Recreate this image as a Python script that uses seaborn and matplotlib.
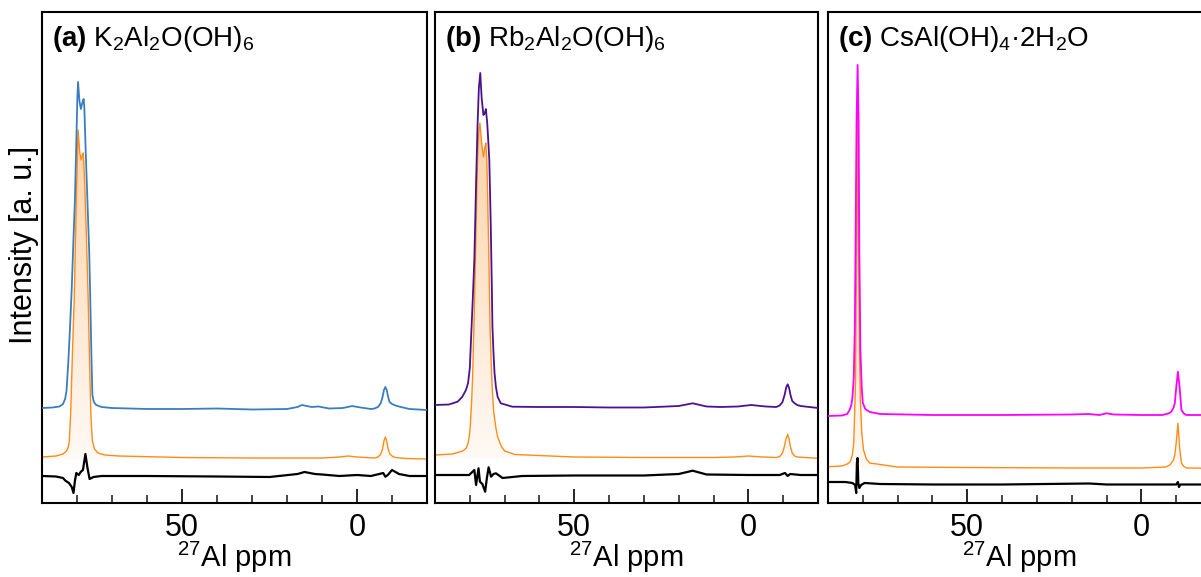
import numpy as np
import pandas as pd
import matplotlib
matplotlib.use("Agg")
import matplotlib.pyplot as plt
from matplotlib.ticker import MultipleLocator
from matplotlib.colors import LinearSegmentedColormap
import seaborn as sns

# ---- datos (ppm, intensidad a.u.) ----
# (a) K2Al2O(OH)6
a_exp_ppm = [90, 87, 85, 84, 83.4, 83.0, 82.5, 82.0, 81.5, 81.0, 80.6, 80.2, 79.9, 79.7, 79.3,
             78.9, 78.5, 78.1, 77.9, 77.5, 77.0, 76.5, 76.2, 75.9, 75.6, 75.2, 74.5, 73, 70,
             60, 50, 40, 30, 20, 17, 15.7, 13, 11, 8, 4, 1.4, -1, -4, -5, -6, -6.8, -7.3, -7.7,
             -8.1, -8.5, -8.9, -9.3, -10, -11, -12.5, -15, -20]
a_exp_int = [95, 95.5, 96.5, 99, 104, 112, 140, 175, 215, 265, 303, 360, 405, 421, 402,
             394, 400, 404, 395, 350, 300, 250, 203, 150, 108, 101, 98, 96, 95,
             94, 94, 94.5, 93.5, 94, 96, 98, 96, 96.5, 94.5, 95, 97, 95.5, 94, 94.5, 96, 100, 106, 113,
             116, 113, 106, 101, 99, 97.5, 96, 94, 93]
a_fit_ppm = [90, 86, 84, 83, 82.5, 82.2, 81.8, 81.3, 80.8, 80.2, 79.7, 79.2, 78.8, 78.5, 78.2,
             77.8, 77.3, 76.8, 76.4, 76.0, 75.6, 75.0, 74.0, 72, 68, 50, 30, 10, 5, 2.5, 0,
             -5, -6, -6.8, -7.3, -7.7, -8.1, -8.5, -8.9, -9.4, -10.2, -11, -14, -20]
a_fit_int = [46, 47, 49, 52, 56, 62, 90, 150, 203, 303, 373, 350, 343, 348, 350,
             320, 265, 203, 140, 85, 62, 54, 50, 48, 47, 45.5, 45, 45, 46, 47, 46,
             45, 46, 49, 54, 62, 66, 62, 54, 49, 46.5, 45.5, 44.5, 44]
a_res_ppm = [90, 86, 84, 83.3, 82.3, 81.5, 81.0, 80.6, 80.2, 79.5, 78.9, 78.3, 77.6, 77.0, 76.4,
             75.3, 73, 60, 40, 25, 17, 15, 12, 10, 5, 0, -4, -7.5, -8.1, -8.8, -10, -12, -15, -20]
a_res_int = [27, 26.5, 25, 22.3, 20, 16, 10, 22, 30, 28, 31.3, 33, 49, 35, 24,
             26, 27, 27, 26.5, 26, 29, 31, 29, 28.5, 27, 28, 27, 30, 26.3, 28, 33, 29, 27, 27]

# (b) Rb2Al2O(OH)6
b_exp_ppm = [90, 86, 83.5, 82.2, 81.1, 80.5, 80.0, 79.7, 79.2, 78.7, 78.2, 77.8, 77.4, 77.0, 76.6,
             76.1, 75.7, 75.4, 75.0, 74.7, 74.4, 74.0, 73.7, 73.5, 73.2, 72.9, 72.5, 72.0, 71.1, 67.8,
             60, 50, 40, 30, 20, 16, 12, 8, 3, -0.8, -5, -8, -9, -9.8, -10.4, -10.9, -11.3, -11.7,
             -12.1, -12.6, -13.2, -14, -15, -20]
b_exp_int = [98, 98.5, 101.3, 106, 113, 120, 135, 160, 200, 243, 320, 376, 415, 430, 405,
             388, 390, 394, 380, 362, 343, 280, 220, 176, 150, 130, 116, 106, 99.7, 96.3,
             96, 96, 95.5, 95.5, 97, 99.7, 96.5, 96, 96.5, 98, 96.5, 96, 97.5, 101, 108, 116, 118.7, 115,
             108, 102, 100, 98, 97, 95]
b_fit_ppm = [90, 85, 82, 81, 80.5, 80.2, 79.9, 79.5, 79.2, 78.8, 78.4, 78.1, 77.8, 77.4, 77.1,
             76.6, 76.1, 75.7, 75.4, 75.1, 74.9, 74.5, 74.2, 73.8, 73.5, 73.1, 72.5, 72.0, 71, 70, 67,
             50, 30, 10, 4, 0, -4, -8, -9, -9.8, -10.3, -10.8, -11.3, -11.7, -12.1, -12.6, -13.3,
             -14, -20]
b_fit_int = [48, 49, 52, 55, 60, 66, 75, 100, 126, 180, 243, 295, 343, 372, 380,
             360, 346, 355, 360, 340, 310, 240, 176, 135, 110, 90, 75, 66, 57, 52, 48.5,
             46, 45.5, 45.5, 46, 47, 46, 45.5, 46.5, 50, 56, 64, 68.7, 64, 56, 50, 47,
             46, 44.7]
b_res_ppm = [90, 85, 81, 80.2, 78.7, 78.2, 77.5, 77.1, 76.4, 75.6, 75.1, 74.6, 73.9, 73.2, 72.5,
             70.6, 65, 50, 30, 20, 16, 12, 0, -9, -10.5, -11.3, -12, -15, -20]
b_res_int = [28, 28, 28, 28, 33, 18, 34.7, 21.3, 19, 11.3, 25, 35.7, 26.3, 29, 29.7,
             25, 27, 27.5, 27.5, 29, 32.3, 28.5, 28, 28, 30, 27, 29, 28, 28]

# (c) CsAl(OH)4·2H2O
c_exp_ppm = [90, 86, 84.5, 83.8, 83.3, 83.0, 82.6, 82.3, 82.1, 81.8, 81.5, 81.2, 81.0, 80.7,
             80.3, 80.0, 79.3, 78, 75, 60, 40, 20, 15.3, 12, 10, 8, 0, -6, -7.8, -8.6, -9.2, -9.6,
             -10.0, -10.5, -11.0, -11.5, -12.2, -12.9, -20]
c_exp_int = [87, 87.5, 89, 93, 98, 105, 125, 175, 253, 380, 438, 380, 253, 153,
             115, 100, 94, 91, 89, 88, 88, 88.5, 89, 88, 89.7, 88.5, 88, 88, 89.5, 91.3, 95, 99.7,
             115, 131.3, 115, 93, 89.5, 88, 88]
c_fit_ppm = [90, 86, 84.5, 83.6, 83.0, 82.6, 82.1, 81.8, 81.5, 81.2, 80.9, 80.7, 80.3, 79.8,
             79.0, 78, 70, 50, 20, 0, -7, -8.2, -9.2, -9.6, -10.0, -10.5, -11.0, -11.5, -12.2,
             -13, -20]
c_fit_int = [36.3, 37, 39, 41.3, 48, 60, 120, 250, 386, 250, 140, 103, 70, 53,
             44, 40, 36, 35.5, 35, 35, 36, 38, 43, 48, 60, 79.7, 55, 40, 36.5,
             35, 34.7]
c_res_ppm = [90, 85, 83, 82.2, 81.9, 81.7, 81.5, 81.3, 81.0, 80.5, 79.5, 75, 60, 40, 15, 10, 0,
             -10, -10.5, -10.8, -11.2, -20]
c_res_int = [21, 21, 20, 18, 10, 40, 45, 20, 15, 18, 20, 19, 18.5, 18.5, 19.5, 18.5, 18.5,
             18.5, 21, 16, 18.5, 18.5]

titles = [r"$\mathbf{(a)}$ K$_2$Al$_2$O(OH)$_6$",
          r"$\mathbf{(b)}$ Rb$_2$Al$_2$O(OH)$_6$",
          r"$\mathbf{(c)}$ CsAl(OH)$_4$·2H$_2$O"]
exp_colors = ["#3a7ebf", "#4b1290", "#ff00ff"]
fit_color = "#ff8c1a"

panels = [
    (a_exp_ppm, a_exp_int, a_fit_ppm, a_fit_int, a_res_ppm, a_res_int),
    (b_exp_ppm, b_exp_int, b_fit_ppm, b_fit_int, b_res_ppm, b_res_int),
    (c_exp_ppm, c_exp_int, c_fit_ppm, c_fit_int, c_res_ppm, c_res_int),
]

sns.set_theme(style="white")
plt.rcParams['font.family'] = ['Liberation Sans', 'DejaVu Sans']
plt.rcParams['mathtext.fontset'] = 'custom'
plt.rcParams['mathtext.rm'] = 'Liberation Sans'
plt.rcParams['mathtext.it'] = 'Liberation Sans:italic'
plt.rcParams['mathtext.bf'] = 'Liberation Sans:bold'

fig = plt.figure(figsize=(12.01, 5.77), dpi=100)
lefts = [42 / 1201, 435 / 1201, 828 / 1201]
widths = [385 / 1201, 383 / 1201, 383 / 1201]
bottom, height = 74 / 577, 491 / 577

grad_cmap = LinearSegmentedColormap.from_list("peach", ["#fffaf5", "#fcd2a8"])

for i, (ep, ei, fp, fi, rp, ri) in enumerate(panels):
    ax = fig.add_axes([lefts[i], bottom, widths[i], height])

    # relleno con degradado bajo el ajuste
    base = min(fi)
    poly = ax.fill_between(fp, fi, base, color="none", lw=0)
    grad = np.linspace(0, 1, 256).reshape(-1, 1)
    img = ax.imshow(grad, cmap=grad_cmap, origin="lower", aspect="auto",
                    extent=(90, -20, base, max(fi)), zorder=1)
    img.set_clip_path(poly.get_paths()[0], transform=ax.transData)

    df_exp = pd.DataFrame({"ppm": ep, "int": ei})
    df_fit = pd.DataFrame({"ppm": fp, "int": fi})
    df_res = pd.DataFrame({"ppm": rp, "int": ri})
    sns.lineplot(data=df_fit, x="ppm", y="int", ax=ax, color=fit_color, lw=1.0, zorder=2)
    sns.lineplot(data=df_exp, x="ppm", y="int", ax=ax, color=exp_colors[i], lw=1.3, zorder=3)
    sns.lineplot(data=df_res, x="ppm", y="int", ax=ax, color="black", lw=1.6, zorder=3)

    ax.set_xlim(90, -20)
    ax.set_ylim(0, 491)
    ax.set_yticks([])
    ax.xaxis.set_major_locator(MultipleLocator(50))
    ax.xaxis.set_minor_locator(MultipleLocator(10))
    ax.tick_params(axis="x", which="major", direction="in", length=10, width=1.2,
                   labelsize=22, pad=7, bottom=True, colors="black")
    ax.tick_params(axis="x", which="minor", direction="in", length=6, width=1.2, bottom=True)
    for s in ax.spines.values():
        s.set_color("black")
        s.set_linewidth(1.5)
    ax.set_xlabel(r"$^{27}$Al ppm", fontsize=21, color="black", labelpad=-2)
    ax.set_ylabel("")
    ax.text(0.025, 0.975, titles[i], transform=ax.transAxes, ha="left", va="top",
            fontsize=20, color="black")
    if i == 0:
        ax.set_ylabel("Intensity [a. u.]", fontsize=22, color="black")
        ax.yaxis.set_label_coords(-0.008, 0.525)

fig.savefig("out.png", dpi=100)
plt.close(fig)
